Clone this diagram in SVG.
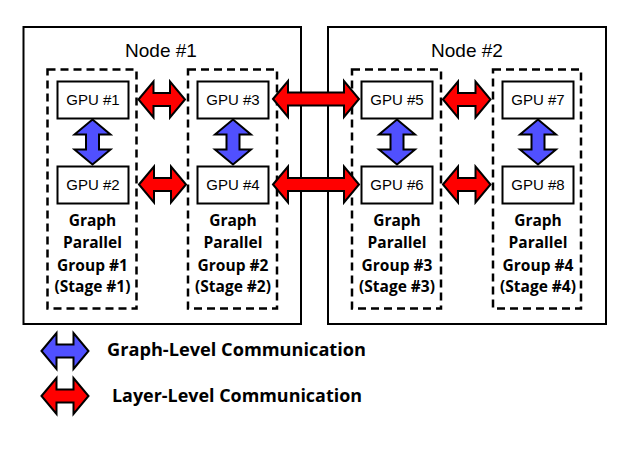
<svg xmlns="http://www.w3.org/2000/svg" width="635" height="449" viewBox="0 0 635 449">
<defs>
<style>
.node{fill:#fff;stroke:#000;stroke-width:2}
.grp{fill:none;stroke:#000;stroke-width:2.5;stroke-dasharray:8 5}
.gpu{fill:#fff;stroke:#000;stroke-width:2}
.gputxt{font-family:"Liberation Sans",Arial,sans-serif;font-size:15px;text-anchor:middle;fill:#000}
.ntxt{font-family:"Liberation Sans",Arial,sans-serif;font-size:19px;text-anchor:middle;fill:#000}
.gtxt{font-family:"Open Sans","Noto Sans",sans-serif;font-weight:bold;font-size:15.5px;text-anchor:middle;fill:#000}
.ltxt{font-family:"Open Sans","Noto Sans",sans-serif;font-weight:bold;font-size:17.5px;fill:#000}
.red{fill:#ff0000;stroke:#000;stroke-width:2;stroke-linejoin:miter}
.blue{fill:#5050ff;stroke:#000;stroke-width:2;stroke-linejoin:miter}
</style>
</defs>
<rect width="635" height="449" fill="#fff"/>
<g id="node1">
<rect class="node" x="23.5" y="27" width="277.5" height="297"/>
<text class="ntxt" x="161" y="57">Node #1</text>
</g>
<g id="node2">
<rect class="node" x="328" y="27" width="278" height="297"/>
<text class="ntxt" x="467" y="57">Node #2</text>
</g>
<g id="group1">
<rect class="grp" x="47.5" y="69.5" width="89" height="239"/>
<text class="gtxt" x="92.5" y="226">Graph</text>
<text class="gtxt" x="92.5" y="248">Parallel</text>
<text class="gtxt" x="92.5" y="271">Group #1</text>
<text class="gtxt" x="92.5" y="292">(Stage #1)</text>
</g>
<g id="group2">
<rect class="grp" x="188" y="69.5" width="89" height="239"/>
<text class="gtxt" x="233" y="226">Graph</text>
<text class="gtxt" x="233" y="248">Parallel</text>
<text class="gtxt" x="233" y="271">Group #2</text>
<text class="gtxt" x="233" y="292">(Stage #2)</text>
</g>
<g id="group3">
<rect class="grp" x="352" y="69.5" width="89" height="239"/>
<text class="gtxt" x="397" y="226">Graph</text>
<text class="gtxt" x="397" y="248">Parallel</text>
<text class="gtxt" x="397" y="271">Group #3</text>
<text class="gtxt" x="397" y="292">(Stage #3)</text>
</g>
<g id="group4">
<rect class="grp" x="493" y="69.5" width="88" height="239"/>
<text class="gtxt" x="538" y="226">Graph</text>
<text class="gtxt" x="538" y="248">Parallel</text>
<text class="gtxt" x="538" y="271">Group #4</text>
<text class="gtxt" x="538" y="292">(Stage #4)</text>
</g>
<g id="gpu1"><rect class="gpu" x="57.5" y="81.5" width="71" height="37"/><text class="gputxt" x="93" y="105">GPU #1</text></g>
<g id="gpu2"><rect class="gpu" x="57.5" y="166.5" width="71" height="37"/><text class="gputxt" x="93" y="190">GPU #2</text></g>
<g id="gpu3"><rect class="gpu" x="197.5" y="81.5" width="71" height="37"/><text class="gputxt" x="233" y="105">GPU #3</text></g>
<g id="gpu4"><rect class="gpu" x="197.5" y="166.5" width="71" height="37"/><text class="gputxt" x="233" y="190">GPU #4</text></g>
<g id="gpu5"><rect class="gpu" x="361.5" y="81.5" width="71" height="37"/><text class="gputxt" x="397" y="105">GPU #5</text></g>
<g id="gpu6"><rect class="gpu" x="361.5" y="166.5" width="71" height="37"/><text class="gputxt" x="397" y="190">GPU #6</text></g>
<g id="gpu7"><rect class="gpu" x="502.5" y="81.5" width="71" height="37"/><text class="gputxt" x="538" y="105">GPU #7</text></g>
<g id="gpu8"><rect class="gpu" x="502.5" y="166.5" width="71" height="37"/><text class="gputxt" x="538" y="190">GPU #8</text></g>
<g id="connectors">
<path class="red" d="M138.5,99.5 L153.5,81.5 L153.5,93 L170,93 L170,81.5 L185,99.5 L170,117.5 L170,106 L153.5,106 L153.5,117.5 Z"/>
<path class="red" d="M139,184.5 L154,166.5 L154,178 L171,178 L171,166.5 L186,184.5 L171,202.5 L171,191 L154,191 L154,202.5 Z"/>
<path class="red" d="M273,99 L288,81 L288,92.5 L344,92.5 L344,81 L359,99 L344,117 L344,105.5 L288,105.5 L288,117 Z"/>
<path class="red" d="M273,184.5 L288,166.5 L288,178 L344,178 L344,166.5 L359,184.5 L344,202.5 L344,191 L288,191 L288,202.5 Z"/>
<path class="red" d="M443,99.5 L458,81.5 L458,93 L475.5,93 L475.5,81.5 L490.5,99.5 L475.5,117.5 L475.5,106 L458,106 L458,117.5 Z"/>
<path class="red" d="M443,184.5 L458,166.5 L458,178 L475.5,178 L475.5,166.5 L490.5,184.5 L475.5,202.5 L475.5,191 L458,191 L458,202.5 Z"/>
<path class="blue" d="M92.5,119.5 L110.5,134.5 L99,134.5 L99,149.5 L110.5,149.5 L92.5,164.5 L74.5,149.5 L86,149.5 L86,134.5 L74.5,134.5 Z"/>
<path class="blue" d="M233,119.5 L251,134.5 L239.5,134.5 L239.5,149.5 L251,149.5 L233,164.5 L215,149.5 L226.5,149.5 L226.5,134.5 L215,134.5 Z"/>
<path class="blue" d="M397,119.5 L415,134.5 L403.5,134.5 L403.5,149.5 L415,149.5 L397,164.5 L379,149.5 L390.5,149.5 L390.5,134.5 L379,134.5 Z"/>
<path class="blue" d="M538,119.5 L556,134.5 L544.5,134.5 L544.5,149.5 L556,149.5 L538,164.5 L520,149.5 L531.5,149.5 L531.5,134.5 L520,134.5 Z"/>
</g>
<g id="legend">
<path class="blue" d="M41.5,351 L56.5,333 L56.5,344.5 L73.5,344.5 L73.5,333 L88.5,351 L73.5,369 L73.5,357.5 L56.5,357.5 L56.5,369 Z"/>
<text class="ltxt" x="107" y="356" textLength="259" lengthAdjust="spacingAndGlyphs">Graph-Level Communication</text>
<path class="red" d="M41.5,396 L56.5,378 L56.5,389.5 L73.5,389.5 L73.5,378 L88.5,396 L73.5,414 L73.5,402.5 L56.5,402.5 L56.5,414 Z"/>
<text class="ltxt" x="112" y="402" textLength="250" lengthAdjust="spacingAndGlyphs">Layer-Level Communication</text>
</g>
</svg>
